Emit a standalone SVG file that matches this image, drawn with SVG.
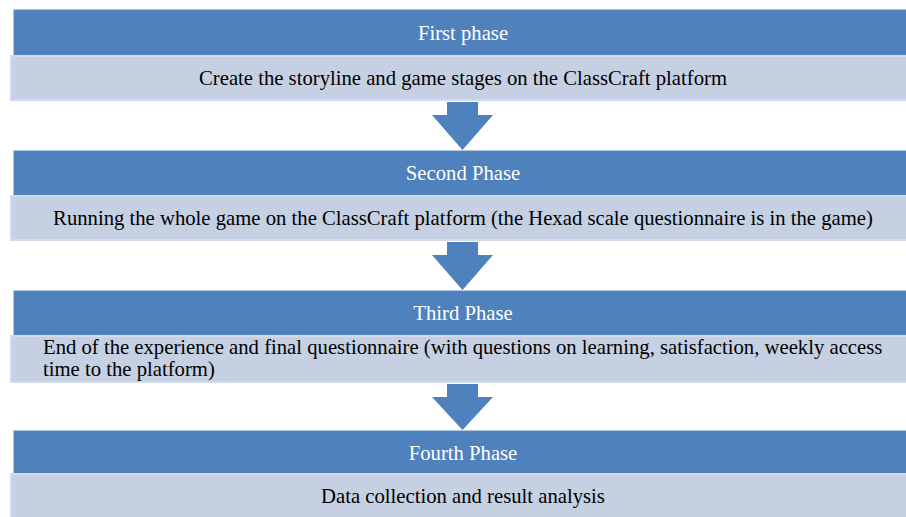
<svg xmlns="http://www.w3.org/2000/svg" width="906" height="517" viewBox="0 0 906 517">
<style>
.hdr{fill:#4F81BD;stroke:#5a89c2;stroke-width:1}
.box{fill:#C5D0E3;stroke:#d3dbea;stroke-width:2}
.arr{fill:#4F81BD}
.ht{font-family:"Liberation Serif","Times New Roman",serif;font-size:20.7px;fill:#ffffff;text-anchor:middle}
.bt{font-family:"Liberation Serif","Times New Roman",serif;font-size:20.7px;fill:#000000;text-anchor:middle}
.bl{font-family:"Liberation Serif","Times New Roman",serif;font-size:20.7px;fill:#000000}
</style>
<rect width="906" height="517" fill="#ffffff"/>
<g id="connectors">
<polygon class="arr" points="447,102 478,102 478,115 493,115 462.5,150 432,115 447,115"/>
<polygon class="arr" points="447,242 478,242 478,255 493,255 462.5,290 432,255 447,255"/>
<polygon class="arr" points="447,384 478,384 478,397 493,397 462.5,430 432,397 447,397"/>
</g>
<g id="phase1">
<rect class="hdr" x="14" y="10" width="900" height="45"/>
<text class="ht" x="463" y="40">First phase</text>
</g>
<g id="step1">
<rect class="box" x="11" y="56" width="905" height="44"/>
<text class="bt" x="463" y="85">Create the storyline and game stages on the ClassCraft platform</text>
</g>
<g id="phase2">
<rect class="hdr" x="14" y="151" width="900" height="44"/>
<text class="ht" x="463" y="180">Second Phase</text>
</g>
<g id="step2">
<rect class="box" x="11" y="196" width="905" height="44"/>
<text class="bt" x="463" y="225">Running the whole game on the ClassCraft platform (the Hexad scale questionnaire is in the game)</text>
</g>
<g id="phase3">
<rect class="hdr" x="14" y="291" width="900" height="44"/>
<text class="ht" x="463" y="320">Third Phase</text>
</g>
<g id="step3">
<rect class="box" x="11" y="336" width="905" height="46"/>
<text class="bl" x="43" y="354">End of the experience and final questionnaire (with questions on learning, satisfaction, weekly access</text>
<text class="bl" x="43" y="376">time to the platform)</text>
</g>
<g id="phase4">
<rect class="hdr" x="14" y="431" width="900" height="43"/>
<text class="ht" x="463" y="460">Fourth Phase</text>
</g>
<g id="step4">
<rect class="box" x="11" y="474" width="905" height="50"/>
<text class="bt" x="463" y="503">Data collection and result analysis</text>
</g>
</svg>
